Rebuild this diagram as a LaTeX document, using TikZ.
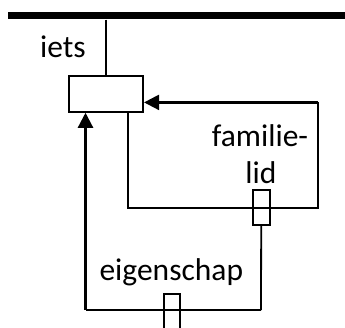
\documentclass[tikz,border=0pt]{standalone}
\usepackage{fontspec}
\setmainfont{Carlito}
\usetikzlibrary{arrows.meta}
\begin{document}
\begin{tikzpicture}[x=1pt,y=-1pt,
  lbl/.style={font=\fontsize{31.5}{36.6}\selectfont, inner sep=0pt, anchor=base},
  entbox/.style={draw, line width=2pt, rectangle, inner sep=0pt},
  conn/.style={line width=2.2pt},
  rel/.style={line width=2.2pt, -{Triangle[length=15pt,width=15pt]}},
  thin/.style={line width=1.8pt}]
\useasboundingbox (0,0) rectangle (345,327);
% top bar
\node[fill=black, inner sep=0pt, minimum height=7pt, minimum width=337pt, anchor=west] (bar) at (8,15.8) {};
% main entity box
\node[entbox, minimum width=73.7pt, minimum height=35.7pt] (thing) at (106.2,93.9) {};
\node[lbl] (ietslbl) at (63,57) {iets};
% relation boxes
\node[entbox, minimum width=17pt, minimum height=35pt] (famlid) at (261.2,207.6) {};
\node[entbox, minimum width=16.5pt, minimum height=35pt, anchor=north] (eig) at (171.9,292.7) {};
\node[lbl] (famlbl1) at (260,146.7) {familie-};
\node[lbl] (famlbl2) at (261,183.3) {lid};
\node[lbl] (eiglbl) at (171.3,280) {eigenschap};
% coordinates of the bends
\coordinate (a1) at (128.3,207.7);
\coordinate (a2) at (318.3,207.7);
\coordinate (a3) at (318.3,102.4);
\coordinate (b1) at (261,310);
\coordinate (b2) at (85.5,310);
% connectors
\draw[thin] (bar.south -| thing.north) -- (thing.north);
\draw[conn] (thing.south -| a1) -- (a1) -- (a2) -- (a3);
\draw[rel] (a3) -- (thing.east |- a3);
\draw[thin] (famlid.south) -- (b1);
\draw[conn] (b1) -- (b2);
\draw[rel] (b2) -- (thing.south -| b2);
\end{tikzpicture}
\end{document}
